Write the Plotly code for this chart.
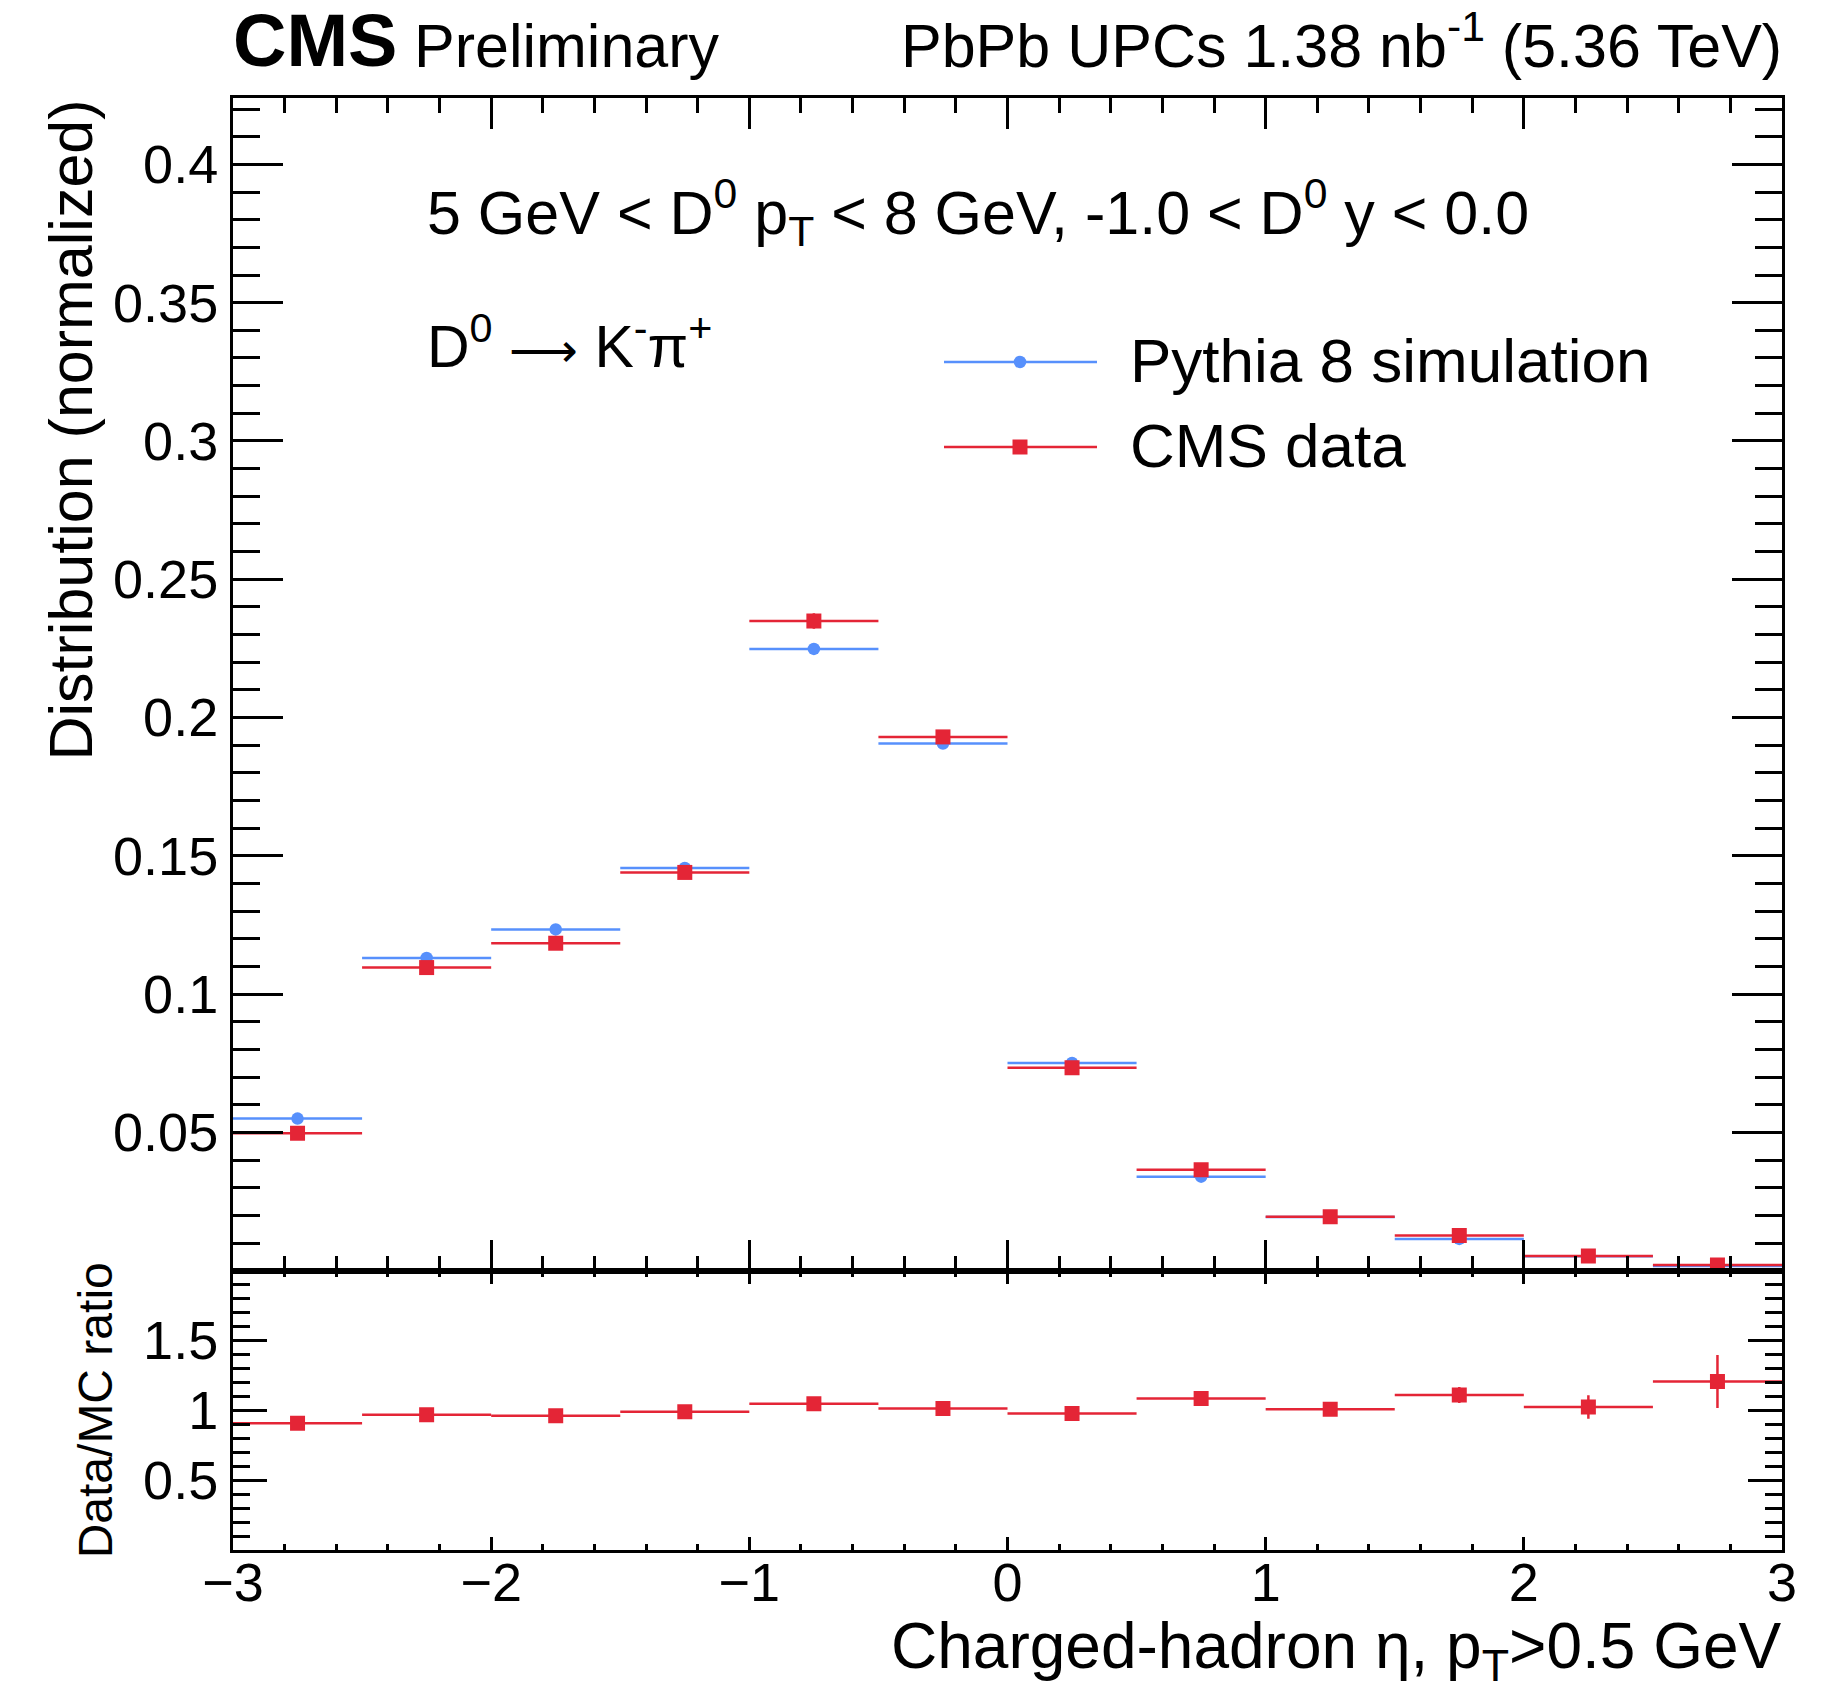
import plotly.graph_objects as go

# ---------------- data ----------------
eta_centers = [-2.75, -2.25, -1.75, -1.25, -0.75, -0.25, 0.25, 0.75, 1.25, 1.75, 2.25, 2.75]
bin_half_width = [0.25] * 12

mc_values = [0.0550, 0.1131, 0.1234, 0.1456, 0.2248, 0.1906, 0.0751, 0.0340, 0.0194, 0.0115, 0.0052, 0.0017]
mc_errors = [0.0004, 0.0006, 0.0006, 0.0007, 0.0008, 0.0007, 0.0005, 0.0003, 0.0002, 0.0002, 0.0001, 0.0001]

data_values = [0.0497, 0.1096, 0.1184, 0.1440, 0.2349, 0.1930, 0.0734, 0.0365, 0.0195, 0.0127, 0.0053, 0.0021]
data_errors = [0.0012, 0.0018, 0.0019, 0.0021, 0.0028, 0.0024, 0.0015, 0.0011, 0.0008, 0.0006, 0.0004, 0.0003]

ratio_values = [0.907, 0.969, 0.962, 0.990, 1.048, 1.014, 0.978, 1.084, 1.007, 1.110, 1.024, 1.206]
ratio_errors = [0.025, 0.020, 0.020, 0.020, 0.020, 0.020, 0.025, 0.035, 0.045, 0.058, 0.085, 0.190]

main_ticks = [0.05, 0.1, 0.15, 0.2, 0.25, 0.3, 0.35, 0.4]
main_ticktext = ["0.05", "0.1", "0.15", "0.2", "0.25", "0.3", "0.35", "0.4"]
ratio_ticks = [0.5, 1, 1.5]
ratio_ticktext = ["0.5", "1", "1.5"]
x_ticks = [-3, -2, -1, 0, 1, 2, 3]
x_ticktext = ["\u22123", "\u22122", "\u22121", "0", "1", "2", "3"]

# ---------------- style ----------------
BLUE = "#5790fc"
RED = "#e42536"
FONT = "Liberation Sans, Arial, Helvetica, sans-serif"
W, H = 1845, 1700
ML, MR, MT, MB = 233, 63, 98, 150
PW, PH = W - ML - MR, H - MT - MB
SPLIT = (H - MB - 1270.7) / PH


def px(x):
    return (x - ML) / PW


def py(y):
    return (H - MB - y) / PH


fig = go.Figure()

fig.add_trace(go.Scatter(
    x=eta_centers, y=mc_values, mode="markers", name="Pythia 8 simulation",
    marker=dict(color=BLUE, size=12.5, symbol="circle"),
    error_x=dict(type="data", array=bin_half_width, color=BLUE, thickness=2.5, width=0),
    error_y=dict(type="data", array=mc_errors, color=BLUE, thickness=2.5, width=0),
    xaxis="x", yaxis="y", showlegend=False))

fig.add_trace(go.Scatter(
    x=eta_centers, y=data_values, mode="markers", name="CMS data",
    marker=dict(color=RED, size=15, symbol="square"),
    error_x=dict(type="data", array=bin_half_width, color=RED, thickness=2.5, width=0),
    error_y=dict(type="data", array=data_errors, color=RED, thickness=2.5, width=0),
    xaxis="x", yaxis="y", showlegend=False))

fig.add_trace(go.Scatter(
    x=eta_centers, y=ratio_values, mode="markers", name="Data/MC",
    marker=dict(color=RED, size=15, symbol="square"),
    error_x=dict(type="data", array=bin_half_width, color=RED, thickness=2.5, width=0),
    error_y=dict(type="data", array=ratio_errors, color=RED, thickness=2.5, width=0),
    xaxis="x2", yaxis="y2", showlegend=False))

common_axis = dict(showline=True, linewidth=3, linecolor="black", mirror="allticks",
                   ticks="inside", tickwidth=3, tickcolor="black", showgrid=False,
                   zeroline=False, tickfont=dict(family=FONT, size=54, color="black"))

fig.update_layout(
    width=W, height=H,
    margin=dict(l=ML, r=MR, t=MT, b=MB),
    paper_bgcolor="white", plot_bgcolor="white",
    font=dict(family=FONT, color="black"),
    xaxis=dict(domain=[0, 1], anchor="y", range=[-3, 3], tickmode="array", tickvals=x_ticks,
               showticklabels=False, ticklen=31,
               minor=dict(dtick=0.2, tick0=0, ticklen=15, tickwidth=3, tickcolor="black", ticks="inside"),
               **common_axis),
    yaxis=dict(domain=[SPLIT, 1], anchor="x", range=[0, 0.424], tickmode="array",
               tickvals=main_ticks, ticktext=main_ticktext, ticklen=50, ticklabelstandoff=1,
               minor=dict(dtick=0.01, tick0=0, ticklen=27, tickwidth=3, tickcolor="black", ticks="inside"),
               **common_axis),
    xaxis2=dict(domain=[0, 1], anchor="y2", matches="x", range=[-3, 3], tickmode="array",
                tickvals=x_ticks, ticktext=x_ticktext, ticklen=13, ticklabelstandoff=-17,
                minor=dict(dtick=0.2, tick0=0, ticklen=6, tickwidth=3, tickcolor="black", ticks="inside"),
                **common_axis),
    yaxis2=dict(domain=[0, SPLIT], anchor="x2", range=[0, 2], tickmode="array",
                tickvals=ratio_ticks, ticktext=ratio_ticktext, ticklen=34, ticklabelstandoff=1,
                minor=dict(dtick=0.1, tick0=0, ticklen=17, tickwidth=3, tickcolor="black", ticks="inside"),
                **common_axis),
)

ann = []
# header
ann.append(dict(text="<b>CMS</b>", x=px(231), y=py(84), xref="paper", yref="paper",
                xanchor="left", yanchor="bottom", showarrow=False,
                font=dict(family=FONT, size=74, color="black")))
ann.append(dict(text="Preliminary", x=px(412), y=py(82), xref="paper", yref="paper",
                xanchor="left", yanchor="bottom", showarrow=False,
                font=dict(family=FONT, size=61, color="black")))
ann.append(dict(text="PbPb UPCs 1.38 nb<sup>-1</sup> (5.36 TeV)", x=px(1784), y=py(82),
                xref="paper", yref="paper", xanchor="right", yanchor="bottom", showarrow=False,
                font=dict(family=FONT, size=61, color="black")))
# in-plot text
ann.append(dict(text="5 GeV &lt; D<sup>0</sup> p<sub>T</sub> &lt; 8 GeV, -1.0 &lt; D<sup>0</sup> y &lt; 0.0",
                x=px(425), y=py(212), xref="paper", yref="paper", xanchor="left", yanchor="middle",
                showarrow=False, font=dict(family=FONT, size=61, color="black")))
ann.append(dict(text="D<sup>0</sup> <span style='font-size:48px'>\u27f6</span> K<sup>-</sup>\u03c0<sup>+</sup>",
                x=px(425), y=py(342), xref="paper", yref="paper", xanchor="left", yanchor="middle",
                showarrow=False, font=dict(family=FONT, size=59, color="black")))
# legend text
ann.append(dict(text="Pythia 8 simulation", x=px(1128), y=py(360), xref="paper", yref="paper",
                xanchor="left", yanchor="middle", showarrow=False,
                font=dict(family=FONT, size=62, color="black")))
ann.append(dict(text="CMS data", x=px(1128), y=py(446), xref="paper", yref="paper",
                xanchor="left", yanchor="middle", showarrow=False,
                font=dict(family=FONT, size=62, color="black")))
# axis titles
ann.append(dict(text="Distribution (normalized)", x=px(70), y=1.0, xref="paper", yref="paper",
                xanchor="center", yanchor="top", textangle=-90, showarrow=False,
                font=dict(family=FONT, size=61, color="black")))
ann.append(dict(text="Data/MC ratio", x=px(95), y=SPLIT / 2, xref="paper", yref="paper",
                xanchor="center", yanchor="middle", textangle=-90, showarrow=False,
                font=dict(family=FONT, size=48, color="black")))
ann.append(dict(text="Charged-hadron \u03b7, p<sub>T</sub>>0.5 GeV", x=px(1784), y=py(1650),
                xref="paper", yref="paper", xanchor="right", yanchor="middle", showarrow=False,
                font=dict(family=FONT, size=64, color="black")))
fig.update_layout(annotations=ann)

# legend symbols
shapes = []
for yy, col, kind, half in [(362, BLUE, "circle", 6.25), (447, RED, "rect", 7.5)]:
    shapes.append(dict(type="line", xref="paper", yref="paper", x0=px(944), x1=px(1097),
                       y0=py(yy), y1=py(yy), line=dict(color=col, width=2.5)))
    shapes.append(dict(type=kind, xref="paper", yref="paper", xsizemode="pixel", ysizemode="pixel",
                       xanchor=px(1020), yanchor=py(yy), x0=-half, x1=half, y0=-half, y1=half,
                       fillcolor=col, line=dict(width=0)))
fig.update_layout(shapes=shapes)

fig.write_html("out.html")
